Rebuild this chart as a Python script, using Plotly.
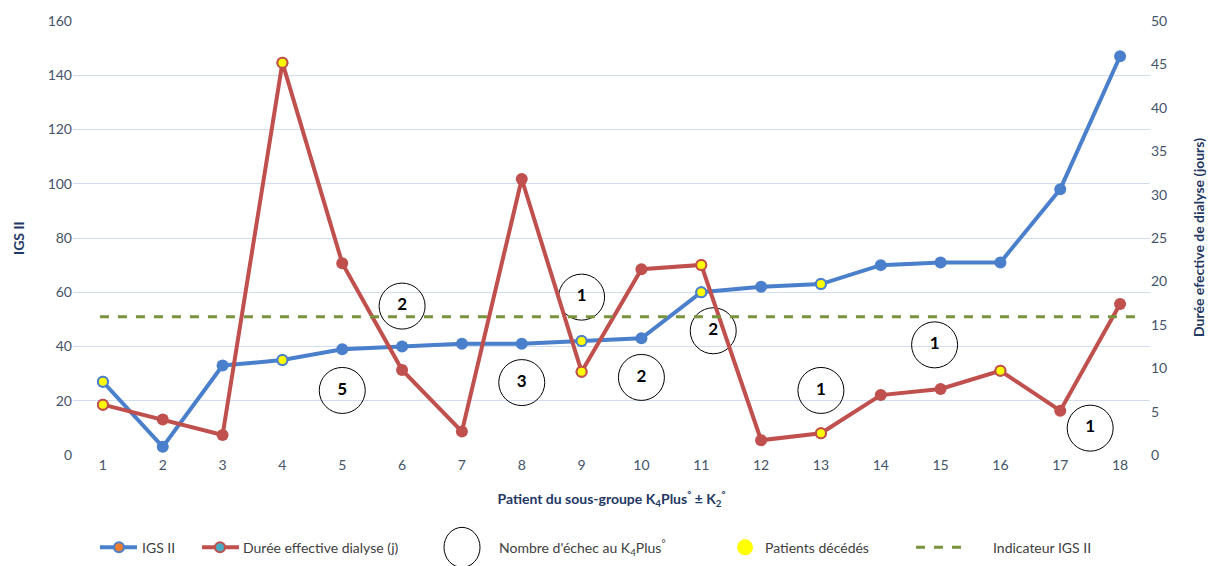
import plotly.graph_objects as go

patients = list(range(1, 19))
igs2 = [27, 3, 33, 35, 39, 40, 41, 41, 42, 43, 60, 62, 63, 70, 71, 71, 98, 147]
duree = [5.8, 4.1, 2.3, 45.2, 22.1, 9.8, 2.7, 31.8, 9.6, 21.4, 21.9, 1.7, 2.5, 6.9, 7.6, 9.7, 5.1, 17.4]
decedes_igs = [1, 4, 9, 11, 13]
decedes_duree = [1, 4, 9, 11, 13, 16]
indicateur_igs = 51
echec_counts = ["2", "1", "2", "1", "5", "3", "2", "1", "1"]
echec_x = [6.0, 9.0, 11.2, 14.9, 5.0, 8.0, 10.0, 13.0, 17.5]
echec_y = [54.9, 58.2, 45.8, 40.6, 23.8, 26.7, 28.6, 23.8, 9.9]

BLUE = "#4A7FCB"
RED = "#C0504D"
GREEN = "#77933C"
YELLOW = "#FFFF00"
FONT = "Lato"
TICK = "#44546A"
TITLE = "#1F3864"
LEG = "#404040"

fig = go.Figure()

# indicator dashed line
fig.add_shape(type="line", xref="x", yref="y", x0=0.95, x1=18.25,
              y0=indicateur_igs, y1=indicateur_igs,
              line=dict(color=GREEN, width=3, dash="dash"))

fig.add_trace(go.Scatter(x=patients, y=igs2, mode="lines+markers", name="IGS II",
                         line=dict(color=BLUE, width=4),
                         marker=dict(color=BLUE, size=12), showlegend=False, yaxis="y"))
fig.add_trace(go.Scatter(x=patients, y=duree, mode="lines+markers", name="Durée effective dialyse (j)",
                         line=dict(color=RED, width=4),
                         marker=dict(color=RED, size=12), showlegend=False, yaxis="y2"))

# deceased markers
fig.add_trace(go.Scatter(x=decedes_igs, y=[igs2[p - 1] for p in decedes_igs], mode="markers",
                         marker=dict(color=YELLOW, size=10, line=dict(color=BLUE, width=2)),
                         showlegend=False, yaxis="y", hoverinfo="skip"))
fig.add_trace(go.Scatter(x=decedes_duree, y=[duree[p - 1] for p in decedes_duree], mode="markers",
                         marker=dict(color=YELLOW, size=10, line=dict(color=RED, width=2)),
                         showlegend=False, yaxis="y2", hoverinfo="skip"))

# failure count circles
fig.add_trace(go.Scatter(x=echec_x, y=echec_y, mode="markers+text", text=echec_counts,
                         textposition="middle center",
                         textfont=dict(family=FONT, size=17, color="black", weight="bold"),
                         marker=dict(color="rgba(0,0,0,0)", size=46, line=dict(color="black", width=1)),
                         showlegend=False, yaxis="y", hoverinfo="skip"))

# manual legend
ly = -0.2128

def legline(x0, x1, color, dash="solid", width=4):
    fig.add_shape(type="line", xref="paper", yref="paper", x0=x0, x1=x1, y0=ly, y1=ly,
                  line=dict(color=color, width=width, dash=dash))

def legcirc(xc, d, fill, lc, lw, h=None):
    h = h or d
    fig.add_shape(type="circle", xref="paper", yref="paper", xsizemode="pixel", ysizemode="pixel",
                  xanchor=xc, yanchor=ly, x0=-d / 2, x1=d / 2, y0=-h / 2, y1=h / 2,
                  fillcolor=fill, line=dict(color=lc, width=lw))

def legtext(x, t):
    fig.add_annotation(xref="paper", yref="paper", x=x, y=ly, text=t, showarrow=False,
                       xanchor="left", yanchor="middle",
                       font=dict(family=FONT, size=14, color=LEG))

legline(0.025, 0.0594, BLUE)
legcirc(0.0427, 10, "#ED7D31", BLUE, 2)
legtext(0.062, "IGS II")
legline(0.1198, 0.1541, RED)
legcirc(0.1365, 10, "#4BACC6", RED, 2)
legtext(0.156, "Durée effective dialyse (j)")
legcirc(0.3612, 36, "rgba(0,0,0,0)", "black", 1, h=40)
legtext(0.394, "Nombre d'échec au K<sub>4</sub>Plus<sup>°</sup>")
legcirc(0.624, 16, YELLOW, YELLOW, 0)
legtext(0.641, "Patients décédés")
legline(0.7827, 0.8329, GREEN, dash="dash", width=3)
legtext(0.852, "Indicateur IGS II")

# axis titles
title_font = dict(family=FONT, size=14, color=TITLE, weight="bold")
fig.add_annotation(xref="paper", yref="paper", x=-0.0511, y=0.5, text="IGS II", textangle=-90,
                   showarrow=False, xanchor="center", yanchor="middle", font=title_font)
fig.add_annotation(xref="paper", yref="paper", x=1.0446, y=0.5, text="Durée efective de dialyse (jours)",
                   textangle=-90, showarrow=False, xanchor="center", yanchor="middle", font=title_font)

fig.update_layout(
    width=1214, height=566,
    margin=dict(l=73, r=64, t=18, b=111),
    plot_bgcolor="white", paper_bgcolor="white",
    font=dict(family=FONT, size=14, color=TICK),
    xaxis=dict(range=[0.5, 18.5], tickvals=patients, showgrid=False, zeroline=False,
               showline=False, ticks="", tickfont=dict(size=14, color=TICK),
               title=dict(text="Patient du sous-groupe K<sub>4</sub>Plus<sup>°</sup> ± K<sub>2</sub><sup>°</sup>",
                          font=title_font, standoff=22)),
    yaxis=dict(range=[0, 160], dtick=20, showgrid=True, gridcolor="#D0DCEF", gridwidth=1,
               zeroline=False, showline=False, ticks="", tickfont=dict(size=14, color=TICK)),
    yaxis2=dict(range=[0, 50], dtick=5, overlaying="y", side="right", showgrid=False,
                zeroline=False, showline=False, ticks="", tickfont=dict(size=14, color=TICK)),
    showlegend=False,
)

fig.write_html("out.html", config={"displayModeBar": False},
               post_script="document.body.style.margin='0';")
